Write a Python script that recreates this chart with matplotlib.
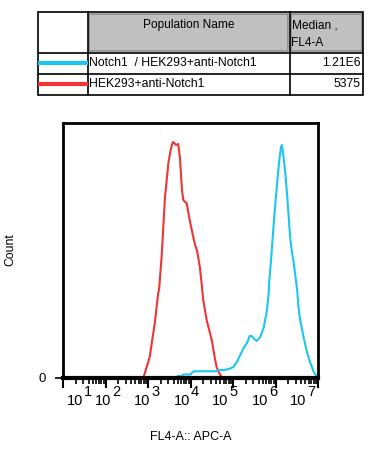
import matplotlib.pyplot as plt
from matplotlib.patches import Rectangle
from matplotlib.ticker import LogLocator, NullFormatter
import numpy as np

plt.rcParams['font.family'] = ['Liberation Sans', 'DejaVu Sans']

# histogram outlines: x as log10(FL4-A), y in counts
red_logx = [2.80, 2.89, 3.04, 3.16, 3.24, 3.26, 3.32, 3.36, 3.40, 3.44, 3.48, 3.52,
            3.56, 3.59, 3.66, 3.71, 3.75, 3.78, 3.80, 3.83, 3.87, 3.91, 3.95, 3.99,
            4.03, 4.07, 4.11, 4.15, 4.18, 4.22, 4.26, 4.30, 4.34, 4.38, 4.44, 4.50,
            4.54, 4.58, 4.62, 4.70, 4.77, 7.00]
red_count = [0, 0, 21, 55, 85, 88, 121, 151, 181, 198, 215, 225,
             233, 236, 233, 234, 221, 201, 188, 178, 176, 175, 165, 156,
             148, 140, 133, 128, 121, 111, 95, 78, 68, 58, 48, 38,
             28, 18, 10, 3, 0, 0]

blue_logx = [1.00, 3.67, 3.70, 3.80, 3.83, 4.00, 4.03, 4.07, 4.62, 4.65, 4.80, 4.90,
             5.01, 5.09, 5.17, 5.25, 5.33, 5.39, 5.44, 5.50, 5.56, 5.64, 5.72, 5.80,
             5.84, 5.85, 5.89, 5.93, 5.97, 6.01, 6.05, 6.09, 6.13, 6.15, 6.19, 6.23,
             6.27, 6.31, 6.35, 6.39, 6.43, 6.47, 6.51, 6.54, 6.58, 6.66, 6.74, 6.82,
             6.90, 6.98]
blue_count = [0, 0, 2, 2, 3.5, 3.5, 5, 6.7, 6.7, 8, 8, 9,
              11, 16, 23, 30, 35, 42, 42, 39, 37, 41, 50, 68,
              85, 95, 115, 138, 161, 181, 201, 218, 231, 233, 221, 205,
              185, 161, 138, 125, 115, 101, 88, 71, 58, 41, 26, 15,
              6, 1]

decades = [1, 2, 3, 4, 5, 6, 7]
# where FlowJo put each "10^n" label (log10 units), slightly off the ticks
label_logx = [1.28, 1.94, 2.86, 3.80, 4.70, 5.64, 6.53]

pop_names = ['Notch1  / HEK293+anti-Notch1', 'HEK293+anti-Notch1']
medians = ['1.21E6', '5375']
blue = '#1cc6f2'
red = '#f23434'
colors = [blue, red]

W, H = 369, 455
fig = plt.figure(figsize=(W / 100, H / 100), dpi=100)

# histogram panel
ax = fig.add_axes([63 / W, 1 - 378 / H, 255 / W, 255 / H])
ax.plot(10 ** np.array(red_logx), red_count, color=red, lw=1.5)
ax.plot(10 ** np.array(blue_logx), blue_count, color=blue, lw=1.5)
ax.set_xscale('log')
ax.set_xlim(10 ** 1, 10 ** 7)
ax.set_ylim(0, 255)

for side in ['top', 'left', 'right']:
    ax.spines[side].set_linewidth(2)
ax.spines['bottom'].set_linewidth(3)

ax.set_xticks([10.0 ** d for d in decades])
ax.xaxis.set_minor_locator(LogLocator(base=10, subs=np.arange(2, 10), numticks=20))
ax.xaxis.set_minor_formatter(NullFormatter())
ax.set_xticklabels([])
ax.tick_params(axis='x', which='major', direction='out', length=7, width=1.5)
ax.tick_params(axis='x', which='minor', direction='out', length=4, width=1.2)
ax.set_yticks([0])
ax.set_yticklabels(['0'], fontsize=9.5)
ax.tick_params(axis='y', direction='out', length=6, width=1.2, pad=6)

tr = ax.get_xaxis_transform()
for d, lx in zip(decades, label_logx):
    ax.text(10 ** lx, -0.105, '10', transform=tr, ha='center', va='baseline', fontsize=10.5)
    ax.text(10 ** (lx + 0.21), -0.07, str(d), transform=tr, ha='left', va='baseline',
            fontsize=10.5)

fig.text(191 / W, 1 - 437 / H, 'FL4-A:: APC-A', ha='center', va='center', fontsize=9)
fig.text(10 / W, 1 - 250 / H, 'Count', ha='center', va='center', rotation=90, fontsize=8.8)

# legend table drawn in pixel space on top
tb = fig.add_axes([0, 0, 1, 1], facecolor='none')
tb.set_xlim(0, W)
tb.set_ylim(H, 0)
tb.axis('off')

x0, x1, x2, x3 = 38, 87.5, 289.5, 363
y0, y1, y2, y3 = 12, 52.5, 73.5, 94.5

for a, b in [(x1, x2), (x2, x3)]:
    tb.add_patch(Rectangle((a + 1.5, y0 + 1.5), b - a - 3, y1 - y0 - 3,
                           facecolor='#c0c0c0', edgecolor='#8c8c8c', lw=1.2))
tb.add_patch(Rectangle((x0, y0), x3 - x0, y3 - y0, facecolor='none',
                       edgecolor='black', lw=1.2))
for x in [x1, x2]:
    tb.plot([x, x], [y0, y3], color='black', lw=1.2)
for y in [y1, y2]:
    tb.plot([x0, x3], [y, y], color='black', lw=1.2)

tb.text((x1 + x2) / 2, 25, 'Population Name', ha='center', va='center', fontsize=8.6)
tb.text(x2 + 2, 25, 'Median ,', ha='left', va='center', fontsize=8.6)
tb.text(x2 + 2, 43, 'FL4-A', ha='left', va='center', fontsize=8.6)

for i, (name, med, c) in enumerate(zip(pop_names, medians, colors)):
    yc = [y1, y2][i] + 10.5
    tb.plot([x0, x1], [yc, yc], color=c, lw=3, solid_capstyle='butt')
    tb.text(x1 + 1.5, yc, name, ha='left', va='center', fontsize=8.8)
    tb.text(x3 - 2, yc, med, ha='right', va='center', fontsize=8.8)

fig.savefig('out.png', dpi=100)
